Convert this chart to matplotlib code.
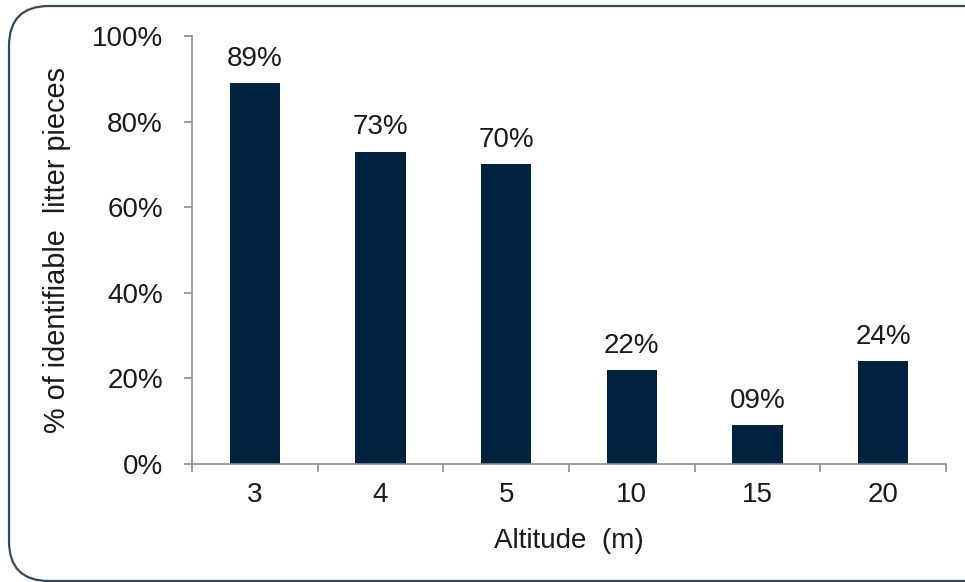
import matplotlib.pyplot as plt
from matplotlib.patches import FancyBboxPatch
from matplotlib.ticker import FixedLocator, PercentFormatter

plt.rcParams['font.family'] = ['Liberation Sans', 'DejaVu Sans']

altitudes = ['3', '4', '5', '10', '15', '20']
shares = [89, 73, 70, 22, 9, 24]
share_labels = ['89%', '73%', '70%', '22%', '09%', '24%']

bar_color = '#012340'
axis_color = '#8c8c8c'
text_color = '#1a1a1a'
fs = 20

fig = plt.figure(figsize=(9.65, 5.82), dpi=100)

# rounded frame around the whole slide (pixel coords, runs off the right edge)
frame = FancyBboxPatch((9, 1), 1000, 575, boxstyle='round,pad=0,rounding_size=40',
                       transform=None, fill=False, edgecolor='#34495a', linewidth=1.6)
fig.patches.append(frame)

ax = fig.add_axes([192 / 965, 1 - 464 / 582, 754 / 965, 428 / 582])
x = range(len(altitudes))
ax.bar(x, shares, width=0.4, color=bar_color)

for xi, v, lab in zip(x, shares, share_labels):
    ax.annotate(lab, (xi, v), xytext=(0, 8), textcoords='offset points',
                ha='center', va='bottom', fontsize=fs, color=text_color)

ax.set_xlim(-0.5, len(altitudes) - 0.5)
ax.set_ylim(0, 100)
ax.set_xticks(list(x))
ax.set_xticklabels(altitudes)
ax.xaxis.set_minor_locator(FixedLocator([i - 0.5 for i in range(len(altitudes) + 1)]))
ax.set_yticks([0, 20, 40, 60, 80, 100])
ax.yaxis.set_major_formatter(PercentFormatter(decimals=0))

ax.tick_params(axis='x', which='major', length=0, pad=13, labelsize=fs, labelcolor=text_color)
ax.tick_params(axis='x', which='minor', length=6, width=1.2, color=axis_color, direction='out')
ax.tick_params(axis='y', length=6, width=1.2, color=axis_color, direction='out', pad=15,
               labelsize=fs, labelcolor=text_color)

for side in ['top', 'right']:
    ax.spines[side].set_visible(False)
for side in ['left', 'bottom']:
    ax.spines[side].set_color(axis_color)
    ax.spines[side].set_linewidth(1.2)

ax.set_xlabel('Altitude  (m)', fontsize=fs, color=text_color, labelpad=14)
ax.set_ylabel('% of identifiable  litter pieces', fontsize=20.8, color=text_color, labelpad=15)

fig.savefig('out.png', dpi=100)
